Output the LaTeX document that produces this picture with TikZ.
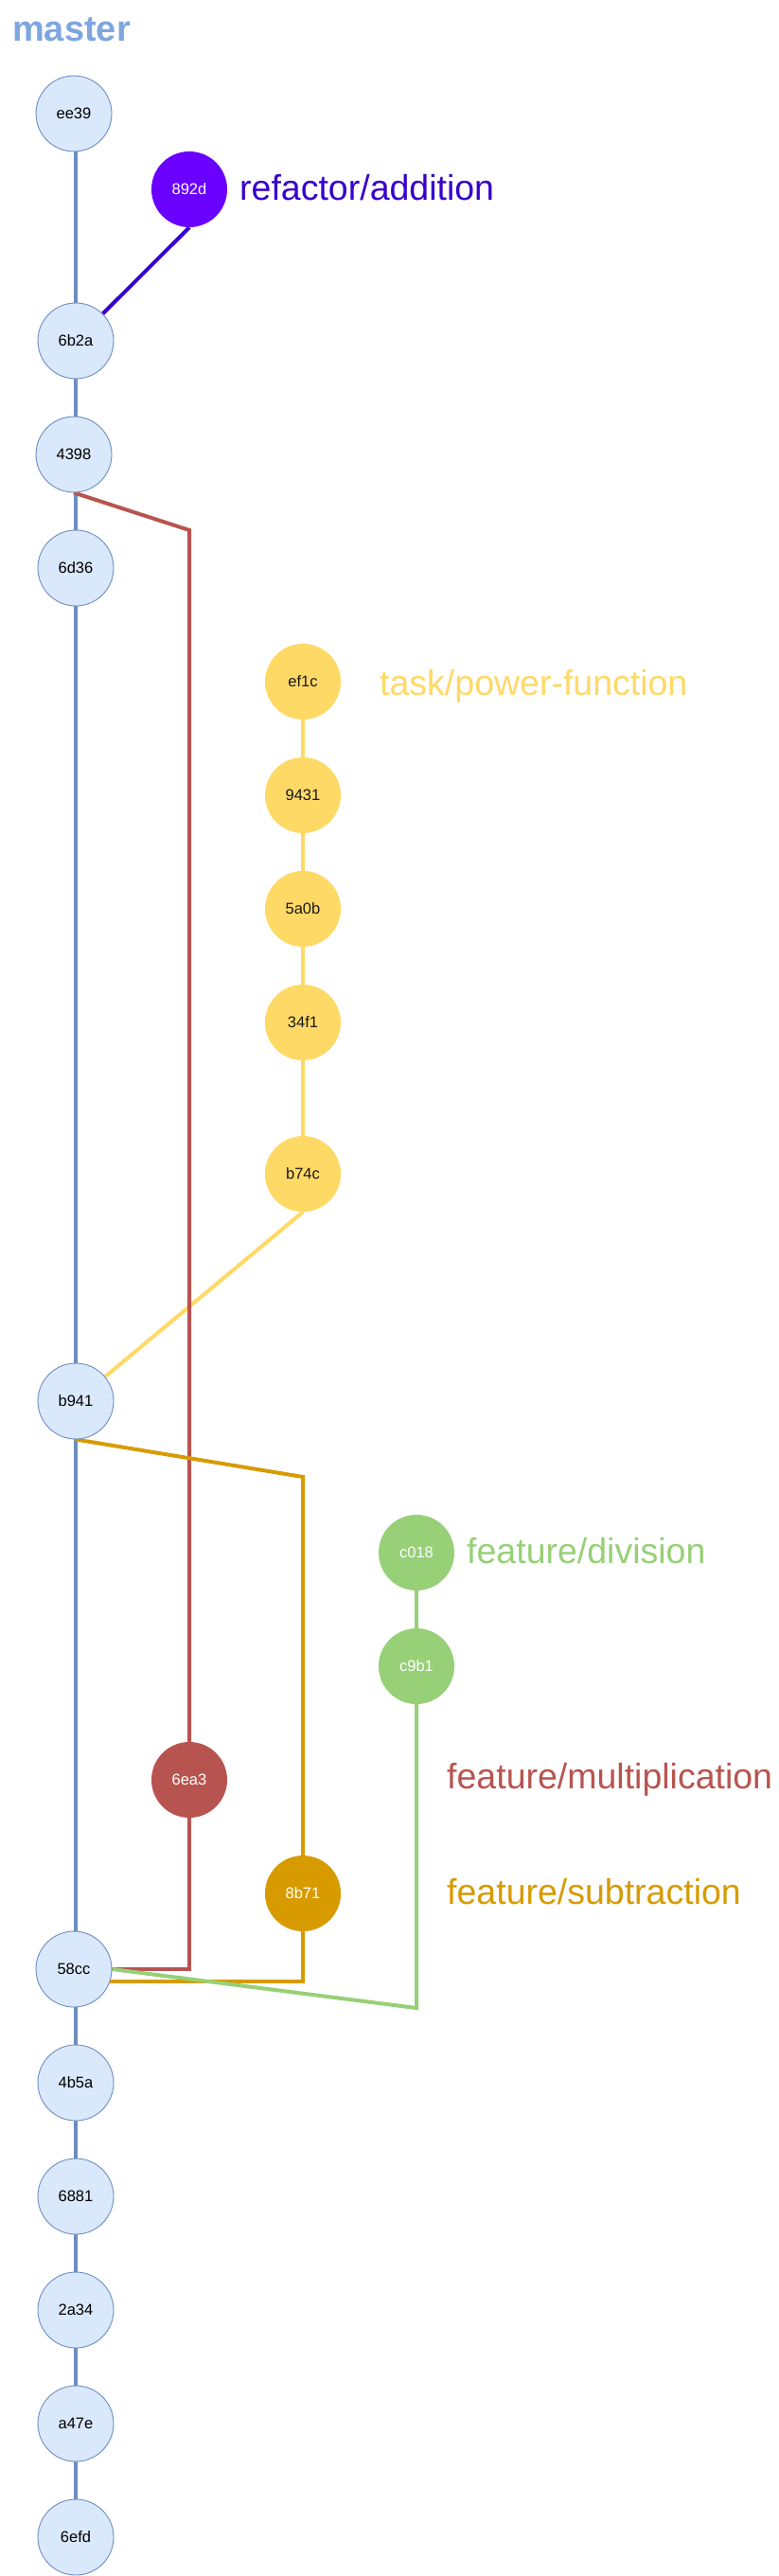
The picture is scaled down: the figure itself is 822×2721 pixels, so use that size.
\documentclass[tikz,border=0pt]{standalone}
\usepackage{fontspec}
\setmainfont{Liberation Sans}
\usetikzlibrary{backgrounds}
\pgfdeclarelayer{bottom}
\pgfsetlayers{bottom,background,main}
\definecolor{mfill}{HTML}{DAE8FC}
\definecolor{mline}{HTML}{6C8EBF}
\definecolor{mtext}{HTML}{7EA6E0}
\definecolor{purplefill}{HTML}{6A00FF}
\definecolor{purpleline}{HTML}{3700CC}
\definecolor{redc}{HTML}{B85450}
\definecolor{orangec}{HTML}{D79B00}
\definecolor{yellowc}{HTML}{FFD966}
\definecolor{greenc}{HTML}{97D077}
\tikzset{
  commit/.style={circle, minimum size=80pt, inner sep=0pt, font=\fontsize{16.5}{20}\selectfont},
  mcommit/.style={commit, fill=mfill, draw=mline, line width=0.9pt, text=black},
  bcommit/.style={commit, fill=#1, draw=none, text=white},
  ycommit/.style={commit, fill=yellowc, draw=none, text=black!90},
  branchlabel/.style={anchor=base west, inner sep=0pt, font=\fontsize{37.5}{44}\selectfont, text=#1},
  link/.style={line width=4pt, draw=#1},
}
\begin{document}
\begin{tikzpicture}[x=1pt, y=-1pt]
\begin{pgfonlayer}{bottom}
\fill[white] (0,0) rectangle (822,2721);
\end{pgfonlayer}
\useasboundingbox (0,0) rectangle (822,2721);

% title
\node[anchor=base west, inner sep=0pt, text=mtext, font=\bfseries\fontsize{38}{44}\selectfont] (title) at (13,43.3) {master};

% master commits
\node[mcommit] (ee39) at (78,120) {ee39};
\node[mcommit] (6b2a) at (80,360) {6b2a};
\node[mcommit] (4398) at (78,480) {4398};
\node[mcommit] (6d36) at (80,600) {6d36};
\node[mcommit] (b941) at (80,1480) {b941};
\node[mcommit] (58cc) at (78,2080) {58cc};
\node[mcommit] (4b5a) at (80,2200) {4b5a};
\node[mcommit] (6881) at (80,2320) {6881};
\node[mcommit] (2a34) at (80,2440) {2a34};
\node[mcommit] (a47e) at (80,2560) {a47e};
\node[mcommit] (6efd) at (80,2680) {6efd};

% refactor/addition
\node[bcommit=purplefill] (892d) at (200,200) {892d};
\node[branchlabel=purpleline] (lrefactor) at (253,211.4) {refactor/addition};

% task/power-function
\node[ycommit] (ef1c) at (320,720) {ef1c};
\node[ycommit] (9431) at (320,840) {9431};
\node[ycommit] (5a0b) at (320,960) {5a0b};
\node[ycommit] (34f1) at (320,1080) {34f1};
\node[ycommit] (b74c) at (320,1240) {b74c};
\node[branchlabel=yellowc] (ltask) at (401,734.4) {task/power-function};

% feature/division
\node[bcommit=greenc] (c018) at (440,1640) {c018};
\node[bcommit=greenc] (c9b1) at (440,1760) {c9b1};
\node[branchlabel=greenc] (ldiv) at (493,1651.4) {feature/division};

% feature/multiplication
\node[bcommit=redc] (6ea3) at (200,1880) {6ea3};
\node[branchlabel=redc] (lmul) at (472,1889.8) {feature/multiplication};

% feature/subtraction
\node[bcommit=orangec] (8b71) at (320,2000) {8b71};
\node[branchlabel=orangec] (lsub) at (472,2011.2) {feature/subtraction};

% bend points
\coordinate (rtop) at (200,560);
\coordinate (otop) at (320,1560);
\coordinate (gbot) at (440,2121);

\begin{pgfonlayer}{background}
% master line
\draw[link=mline] (ee39.south -| 6b2a) -- (6b2a.north);
\draw[link=mline] (6b2a.south) -- (6b2a.south |- 4398.north);
\draw[link=mline] (4398.south -| 6d36) -- (6d36.north);
\draw[link=mline] (6d36.south) -- (b941.north);
\draw[link=mline] (b941.south) -- (b941.south |- 58cc.north);
\draw[link=mline] (58cc.south -| 4b5a) -- (4b5a.north);
\draw[link=mline] (4b5a.south) -- (6881.north);
\draw[link=mline] (6881.south) -- (2a34.north);
\draw[link=mline] (2a34.south) -- (a47e.north);
\draw[link=mline] (a47e.south) -- (6efd.north);

% refactor/addition
\draw[link=purpleline] (892d.south) -- (6b2a);

% task/power-function
\draw[link=yellowc] (ef1c.south) -- (9431.north);
\draw[link=yellowc] (9431.south) -- (5a0b.north);
\draw[link=yellowc] (5a0b.south) -- (34f1.north);
\draw[link=yellowc] (34f1.south) -- (b74c.north);
\draw[link=yellowc] (b74c.south) -- (b941);

% feature/multiplication
\draw[link=redc] (4398.south) -- (rtop) -- (6ea3.north);
\draw[link=redc] (6ea3.south) |- (58cc.east);

% feature/subtraction
\draw[link=orangec] (b941.south) -- (otop) -- (8b71.north);
\draw[link=orangec] (8b71.south) |- (58cc.-19);

% feature/division
\draw[link=greenc] (c018.south) -- (c9b1.north);
\draw[link=greenc] (c9b1.south) -- (gbot) -- (58cc.east);
\end{pgfonlayer}
\end{tikzpicture}
\end{document}
